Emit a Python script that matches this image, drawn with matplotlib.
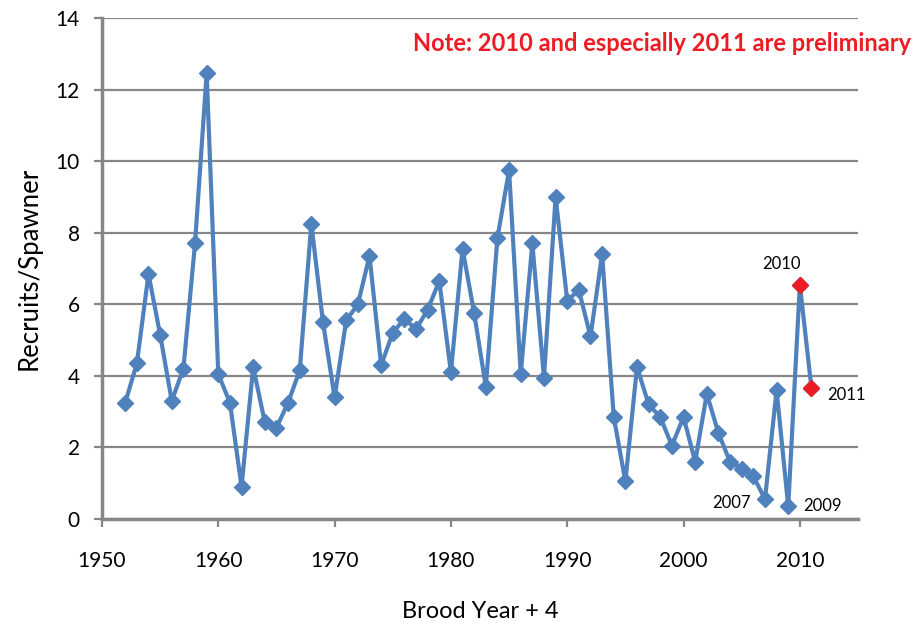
import matplotlib
matplotlib.use("Agg")
import matplotlib.pyplot as plt

years = list(range(1952, 2012))
ratio = [3.25, 4.35, 6.85, 5.15, 3.3, 4.2, 7.7, 12.45, 4.05, 3.25,
         0.9, 4.25, 2.7, 2.55, 3.25, 4.15, 8.25, 5.5, 3.4, 5.55,
         6.0, 7.35, 4.3, 5.2, 5.6, 5.3, 5.85, 6.65, 4.1, 7.55,
         5.75, 3.7, 7.85, 9.75, 4.05, 7.7, 3.95, 9.0, 6.1, 6.4,
         5.1, 7.4, 2.85, 1.05, 4.25, 3.2, 2.85, 2.05, 2.85, 1.6,
         3.5, 2.4, 1.6, 1.4, 1.2, 0.55, 3.6, 0.35, 6.55, 3.65]
prelim_years = [2010, 2011]
xticks = [1950, 1960, 1970, 1980, 1990, 2000, 2010]
yticks = [0, 2, 4, 6, 8, 10, 12, 14]
labels = {2007: ("2007", "right"), 2009: ("2009", "left"),
          2010: ("2010", "center"), 2011: ("2011", "left")}

plt.rcParams['font.family'] = ['Lato', 'DejaVu Sans']

fig = plt.figure(figsize=(9.22, 6.25), dpi=100)
ax = fig.add_axes([0.1106, 0.1696, 0.8200, 0.8016])

blue = "#4F81BD"
red = "#ED1C24"
grid = "#878787"

ax.plot(years, ratio, color=blue, lw=3, marker="D", ms=8.5, zorder=3)
pv = [ratio[years.index(y)] for y in prelim_years]
ax.plot(prelim_years, pv, ls="none", marker="D", ms=8.5, color=red, zorder=4)

ax.set_xlim(1950, 2015)
ax.set_ylim(0, 14)
ax.set_xticks(xticks)
ax.set_yticks(yticks)
ax.yaxis.grid(True, color=grid, lw=1.6)
ax.set_axisbelow(True)
for s in ["top", "right"]:
    ax.spines[s].set_visible(False)
for s in ["left", "bottom"]:
    ax.spines[s].set_color(grid)
    ax.spines[s].set_linewidth(2.5)
ax.tick_params(axis="both", colors=grid, width=1.6, length=6, labelsize=15,
               labelcolor="black")
ax.tick_params(axis="x", pad=17)
ax.tick_params(axis="y", pad=10)

ax.set_ylabel("Recruits/Spawner", fontsize=18.5, labelpad=10)
ax.set_xlabel("Brood Year + 4", fontsize=17, labelpad=22)

offsets = {2007: (-10, -3), 2009: (11, 0), 2010: (-13, 15), 2011: (11, -5)}
for yr, (txt, ha) in labels.items():
    v = ratio[years.index(yr)]
    dx, dy = offsets[yr]
    ax.annotate(txt, (yr, v), xytext=(dx, dy), textcoords="offset points",
                ha=ha, va="center", fontsize=12)

fig.text(0.718, 0.931, "Note: 2010 and especially 2011 are preliminary",
         color=red, fontsize=17, fontweight="bold", ha="center", va="center")

fig.savefig("out.png", dpi=100)
